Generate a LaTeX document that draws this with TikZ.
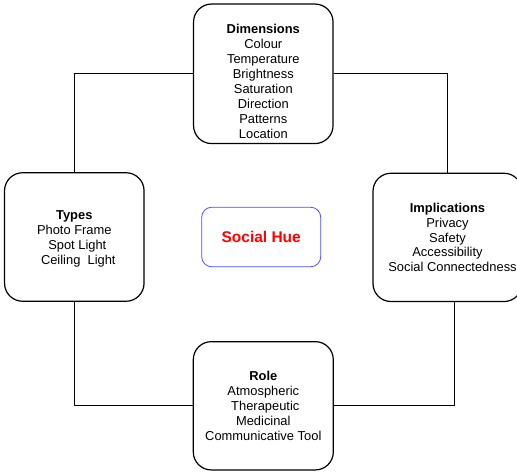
\documentclass[tikz,border=0pt]{standalone}
\usepackage{fontspec}
\setmainfont{Liberation Sans}

\begin{document}
\begin{tikzpicture}[x=1pt,y=-1pt,
  box/.style={draw,line width=1.2pt,rounded corners=18pt,align=center,
    font=\fontsize{12.9pt}{14.95pt}\selectfont},
  hub/.style={draw=blue!70,line width=0.8pt,rounded corners=10pt,
    minimum width=119pt,minimum height=59.5pt,text=red,
    font=\bfseries\fontsize{15.5pt}{18pt}\selectfont},
  link/.style={line width=0.9pt}]
  \useasboundingbox (0,0) rectangle (517,473);

  \node[hub] (hue) at (261.2,237) {Social Hue};

  \node[box,minimum width=139.5pt,minimum height=139.5pt] (dim) at (263.3,73.8)
    {\rule{0pt}{24pt}\textbf{Dimensions}\\Colour\\Temperature\\Brightness\\
     Saturation\\Direction\\Patterns\\Location};
  \node[box,minimum width=139.5pt,minimum height=128.5pt] (types) at (74.3,237)
    {\rule{0pt}{13.5pt}\textbf{Types}\\Photo Frame\\\hspace{6pt}Spot Light\\\hspace{8pt}Ceiling\ \ Light};
  \node[box,minimum width=149pt,minimum height=128.3pt] (impl) at (447.5,237.4)
    {\textbf{Implications}\hspace{7pt}\\Privacy\hspace{7pt}\\Safety\\Accessibility\\
     \hspace{10pt}Social Connectedness};
  \node[box,minimum width=140pt,minimum height=128.3pt] (role) at (263.3,405.8)
    {\textbf{Role}\\Atmospheric\hspace{4pt}\\\hspace{4pt}Therapeutic\\Medicinal\\
     Communicative Tool};

  % ring of connectors
  \draw[link] (dim.west) -| (types.north);
  \draw[link] (dim.east) -| (impl.north);
  \draw[link] (types.south) |- (role.west);
  \draw[link] ([xshift=7pt]impl.south) |- (role.east);
\end{tikzpicture}
\end{document}
